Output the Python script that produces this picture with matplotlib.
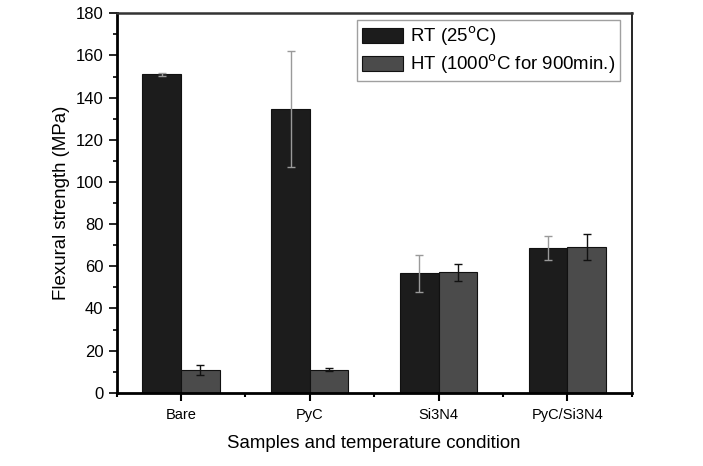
import matplotlib.pyplot as plt
import numpy as np
from matplotlib.ticker import MultipleLocator

plt.rcParams['font.family'] = ['Liberation Sans', 'DejaVu Sans']

samples = ["Bare", "PyC", "Si3N4", "PyC/Si3N4"]
rt_mean = [151.0, 134.6, 56.8, 68.6]
rt_err = [0.8, 27.7, 8.8, 5.7]
ht_mean = [11.0, 11.0, 57.2, 69.0]
ht_err = [2.4, 0.8, 4.0, 6.2]

fig = plt.figure(figsize=(7.03, 4.66), dpi=100)
ax = fig.add_axes([0.166, 0.157, 0.7326, 0.8145])

x = np.arange(len(samples))
w = 0.3
ax.bar(x - w / 2, rt_mean, w, color="#1c1c1c", edgecolor="#111111", linewidth=0.8,
       label=r"RT (25$^{\rm o}$C)")
ax.bar(x + w / 2, ht_mean, w, color="#4b4b4b", edgecolor="#111111", linewidth=0.8,
       label=r"HT (1000$^{\rm o}$C for 900min.)")
ax.errorbar(x - w / 2, rt_mean, yerr=rt_err, fmt="none", ecolor="#9a9a9a",
            elinewidth=1, capsize=3, capthick=1)
ax.errorbar(x + w / 2, ht_mean, yerr=ht_err, fmt="none", ecolor="#111111",
            elinewidth=1, capsize=3, capthick=1)

ax.set_xlim(-0.5, 3.5)
ax.set_ylim(0, 180)
ax.set_xticks(x)
ax.set_xticklabels(samples, fontsize=10.5)
ax.xaxis.set_minor_locator(MultipleLocator(1.0, offset=0.5))
ax.yaxis.set_major_locator(MultipleLocator(20))
ax.yaxis.set_minor_locator(MultipleLocator(10))
ax.tick_params(axis="y", which="major", direction="out", length=6, width=1.2, labelsize=12)
ax.tick_params(axis="y", which="minor", direction="out", length=3, width=1.2)
ax.tick_params(axis="x", which="major", direction="out", length=6, width=1.5, pad=5)
ax.tick_params(axis="x", which="minor", direction="out", length=3, width=1.5)

ax.spines["left"].set_linewidth(2)
ax.spines["bottom"].set_linewidth(2)
ax.spines["top"].set_linewidth(1.8)
ax.spines["top"].set_color("#333333")
ax.spines["right"].set_linewidth(1.2)

ax.set_ylabel("Flexural strength (MPa)", fontsize=13.4, labelpad=4)
ax.set_xlabel("Samples and temperature condition", fontsize=13.4, labelpad=9)

leg = ax.legend(loc="upper right", bbox_to_anchor=(0.977, 0.982), fontsize=13.4,
                frameon=True, fancybox=False, borderaxespad=0, handlelength=2.2,
                handleheight=0.86, handletextpad=0.4, borderpad=0.25, labelspacing=0.25)
leg.get_frame().set_edgecolor("#888888")
leg.get_frame().set_linewidth(1)

fig.savefig("out.png", dpi=100)
